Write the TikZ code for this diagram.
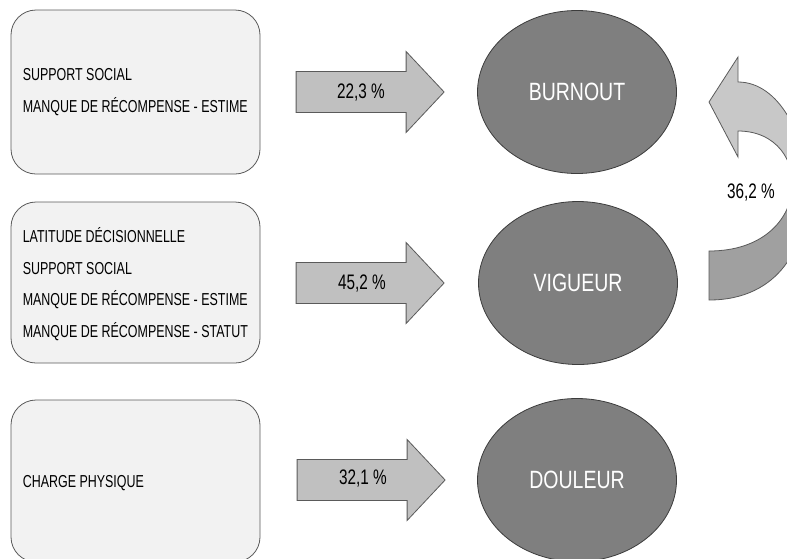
\documentclass[tikz,border=0pt]{standalone}
\usepackage{fontspec}
\setmainfont{Liberation Sans}[FakeStretch=0.73]
\newfontfamily\boxfont{Liberation Sans}[FakeStretch=0.72]
\newfontfamily\ovalfont{Liberation Sans}[FakeStretch=0.78]
\usetikzlibrary{shapes.geometric}

\definecolor{boxfill}{HTML}{F2F2F2}
\definecolor{boxline}{HTML}{5A5A5A}
\definecolor{ellfill}{HTML}{7F7F7F}
\definecolor{ellline}{HTML}{3C3C3C}
\definecolor{arrowfill}{HTML}{C0C0C0}
\definecolor{arrowline}{HTML}{5A5A5A}
\definecolor{looplight}{HTML}{C8C8C8}
\definecolor{loopdark}{HTML}{A0A0A0}

\tikzset{
  infobox/.style={draw=boxline, fill=boxfill, line width=0.8pt,
    rounded corners=25pt, minimum width=249pt, inner sep=0pt},
  boxtext/.style={anchor=west, inner sep=0pt, align=left,
    font=\boxfont\fontsize{17.3}{31.7}\selectfont},
  outcome/.style={ellipse, draw=ellline, fill=ellfill, line width=0.8pt,
    minimum width=199pt, minimum height=163pt, inner sep=0pt,
    text=white, font=\ovalfont\fontsize{25}{30}\selectfont},
  pct/.style={inner sep=0pt, font=\fontsize{21}{25}\selectfont},
  blockarrow/.pic={
    \draw[draw=arrowline, fill=arrowfill, line width=0.8pt]
      (0,20.5) -- (110,20.5) -- (110,40.5) -- (148,0) -- (110,-40.5)
      -- (110,-20.5) -- (0,-20.5) -- cycle;
  }
}

\begin{document}
\begin{tikzpicture}[x=1pt,y=1pt]
\useasboundingbox (0,0) rectangle (787,-558);
\clip (0,0) rectangle (787,-558);

% predictor boxes
\node[infobox, minimum height=164pt] (b1) at (135.5,-92) {};
\node[infobox, minimum height=161pt] (b2) at (135.5,-282.5) {};
\node[infobox, minimum height=162pt] (b3) at (135.5,-481) {};

\node[boxtext] (t1) at ([xshift=12pt]b1.west)
  {SUPPORT SOCIAL\\MANQUE DE RÉCOMPENSE - ESTIME};
\node[boxtext] (t2) at ([xshift=12pt,yshift=-1.5pt]b2.west)
  {LATITUDE DÉCISIONNELLE\\SUPPORT SOCIAL\\MANQUE DE RÉCOMPENSE - ESTIME\\MANQUE DE RÉCOMPENSE - STATUT};
\node[boxtext] (t3) at ([xshift=12pt,yshift=-2pt]b3.west)
  {CHARGE PHYSIQUE};

% outcomes
\node[outcome] (e1) at (577,-92) {BURNOUT};
\node[outcome] (e2) at (578,-283) {VIGUEUR};
\node[outcome] (e3) at (577,-480) {DOULEUR};

% block arrows from predictors to outcomes
\pic at ([xshift=-181pt]e1.west) {blockarrow};
\pic at ([xshift=-182pt]e2.west) {blockarrow};
\pic at ([xshift=-180pt]e3.west) {blockarrow};

\node[pct] (p1) at (361,-93) {22,3~\%};
\node[pct] (p2) at (362,-284) {45,2~\%};
\node[pct] (p3) at (363,-479) {32,1~\%};

% curved arrow from VIGUEUR back up to BURNOUT
\begin{scope}
  \clip (700,-190) rectangle (800,-320);
  \draw[draw=arrowline, fill=loopdark, line width=0.8pt]
    (709,-300) -- (709,-251) .. controls (815,-251) and (815,-131) .. (738,-131)
    -- (738,-157) -- (709,-102) -- (738,-57) -- (738,-82)
    .. controls (820,-82) and (850,-300) .. (709,-300) -- cycle;
\end{scope}
\begin{scope}
  \clip (700,-40) rectangle (800,-190);
  \draw[draw=arrowline, fill=looplight, line width=0.8pt]
    (709,-300) -- (709,-251) .. controls (815,-251) and (815,-131) .. (738,-131)
    -- (738,-157) -- (709,-102) -- (738,-57) -- (738,-82)
    .. controls (820,-82) and (850,-300) .. (709,-300) -- cycle;
\end{scope}
\node[pct] (p4) at (751,-193) {36,2~\%};
\end{tikzpicture}
\end{document}
